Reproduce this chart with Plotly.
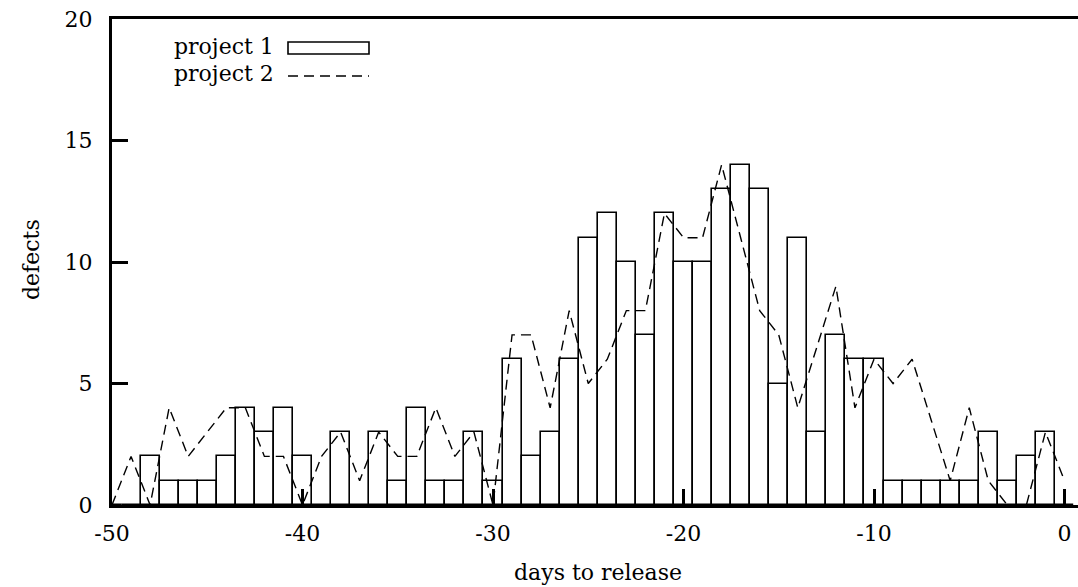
import plotly.graph_objects as go

days = list(range(-50, 1))
project1 = [0, 0, 2, 1, 1, 1, 2, 4, 3, 4,
            2, 0, 3, 0, 3, 1, 4, 1, 1, 3,
            1, 6, 2, 3, 6, 11, 12, 10, 7, 12,
            10, 10, 13, 14, 13, 5, 11, 3, 7, 6,
            6, 1, 1, 1, 1, 1, 3, 1, 2, 3,
            0]
project2 = [0, 2, 0, 4, 2, 3, 4, 4, 2, 2,
            0, 2, 3, 1, 3, 2, 2, 4, 2, 3,
            0, 7, 7, 4, 8, 5, 6, 8, 8, 12,
            11, 11, 14, 11, 8, 7, 4, 6.5, 9, 4,
            6, 5, 6, 3.5, 1, 4, 1, 0, 0, 3,
            1]
xtick_vals = [-50, -40, -30, -20, -10, 0]
xtick_text = ["-50", "-40", "-30", "-20", "-10", "0"]
ytick_vals = [0, 5, 10, 15, 20]

W, H = 1078, 587
ML, MR, MT, MB = 112, 0, 19, 82
PW, PH = W - ML - MR, H - MT - MB

def px(x):
    return (x - ML) / PW

def py(y):
    return (H - MB - y) / PH

FONT = "DejaVu Serif"
FS = 22

fig = go.Figure()
fig.add_trace(go.Bar(
    x=days, y=project1, width=1,
    marker=dict(color="white", line=dict(color="black", width=1.6)),
    name="project 1", showlegend=False,
))
fig.add_trace(go.Scatter(
    x=days, y=project2, mode="lines",
    line=dict(color="black", width=1.4, dash="10px,6px"),
    name="project 2", showlegend=False,
))

# custom legend (text left of sample, as in the reference)
fig.add_annotation(x=px(276), y=py(47), xref="paper", yref="paper",
                   text="project 1", showarrow=False, xanchor="right", yanchor="middle",
                   font=dict(family=FONT, size=FS, color="black"))
fig.add_annotation(x=px(276), y=py(73), xref="paper", yref="paper",
                   text="project 2", showarrow=False, xanchor="right", yanchor="middle",
                   font=dict(family=FONT, size=FS, color="black"))
fig.add_shape(type="rect", xref="paper", yref="paper",
              x0=px(288), x1=px(369), y0=py(42), y1=py(54),
              line=dict(color="black", width=1.6), fillcolor="white")
fig.add_shape(type="line", xref="paper", yref="paper",
              x0=px(288), x1=px(369), y0=py(76), y1=py(76),
              line=dict(color="black", width=1.4, dash="10px,6px"))

# axis titles
fig.add_annotation(x=px(31), y=py(260), xref="paper", yref="paper",
                   text="defects", showarrow=False, textangle=-90,
                   xanchor="center", yanchor="middle",
                   font=dict(family=FONT, size=FS, color="black"))
fig.add_annotation(x=px(598), y=py(572), xref="paper", yref="paper",
                   text="days to release", showarrow=False,
                   xanchor="center", yanchor="middle",
                   font=dict(family=FONT, size=FS, color="black"))

fig.update_layout(
    width=W, height=H,
    margin=dict(l=ML, r=MR, t=MT, b=MB, pad=0),
    paper_bgcolor="white", plot_bgcolor="white",
    bargap=0,
    font=dict(family=FONT, size=FS, color="black"),
    showlegend=False,
)
fig.update_xaxes(
    range=[-50, -50 + PW / 19.05], showgrid=False, zeroline=False,
    showline=True, linewidth=3, linecolor="black", mirror=True,
    ticks="inside", ticklen=16, tickwidth=2.5, tickcolor="black",
    tickvals=xtick_vals, ticktext=xtick_text, ticklabelstandoff=7,
    layer="above traces",
)
fig.update_yaxes(
    range=[0, 20], showgrid=False, zeroline=False,
    showline=True, linewidth=3, linecolor="black", mirror=False,
    ticks="inside", ticklen=16, tickwidth=2.5, tickcolor="black",
    tickvals=ytick_vals, ticklabelstandoff=12,
    layer="above traces",
)

fig.write_html("out.html")
